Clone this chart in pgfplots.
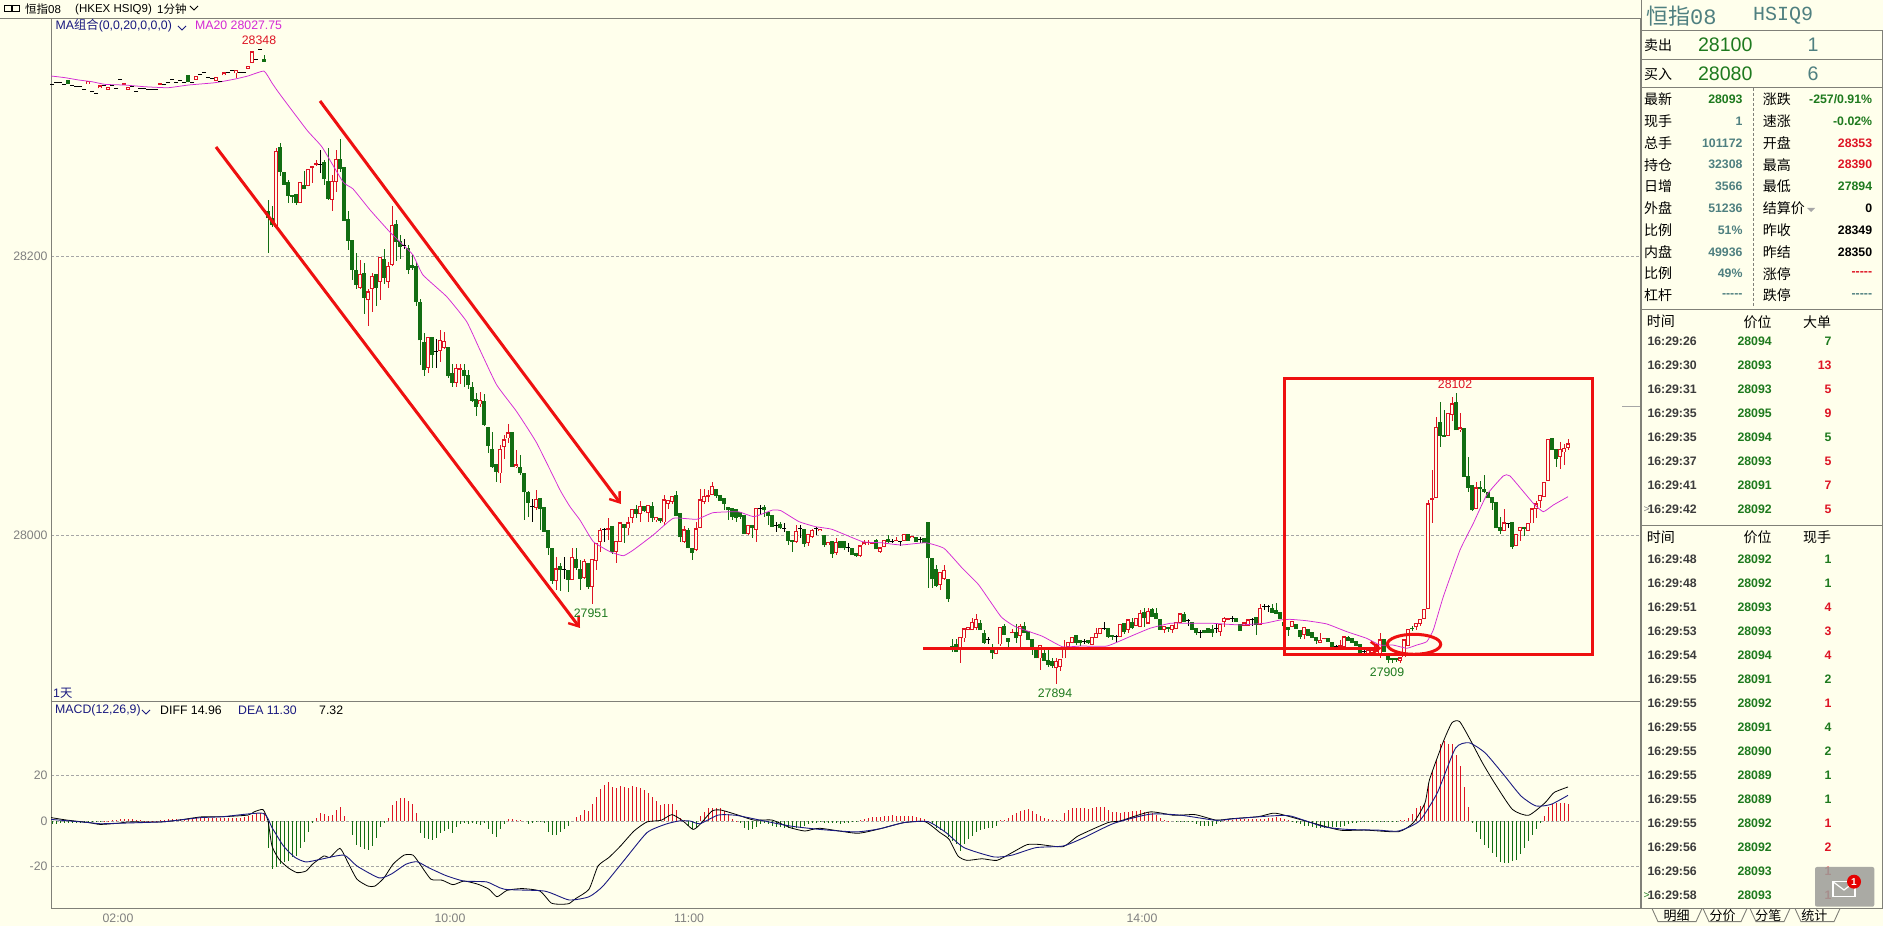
\documentclass[border=0pt]{standalone}
\usepackage{fontspec}
\usepackage{pgfplots}
\usepackage{pgfplotstable}
\pgfplotsset{compat=1.18}
\usetikzlibrary{arrows.meta}
\setmainfont{Liberation Sans}
\newfontfamily\cjk{Noto Sans CJK SC}
\newfontfamily\mono{Liberation Mono}
\definecolor{bg}{HTML}{FFFFEC}
\definecolor{cr}{HTML}{DE1424}
\definecolor{cg}{HTML}{126E12}
\definecolor{tg}{HTML}{1E7A1E}
\definecolor{tl}{HTML}{4F8080}
\definecolor{mg}{HTML}{D428D4}
\definecolor{nv}{HTML}{1A1A80}
\definecolor{gl}{HTML}{808078}
\definecolor{tm}{HTML}{3C3C3C}
\definecolor{anno}{HTML}{EE1010}

% body low, body high, low, high
\pgfplotstableread{
x bl bh l h
88 28323 28325.5 28323 28325.5
100 28320 28322 28320 28322
108 28319 28321 28319 28321
124 28322 28323.5 28322 28323.5
128 28319 28321 28319 28321
160 28322.5 28323.5 28322.5 28323.5
196 28326 28329 28326 28329
216 28325.4 28327.8 28325.4 28327.8
224 28329.2 28331.4 28329.2 28331.4
236 28330.7 28333 28327 28333
248 28334 28336 28334 28336
252 28338 28346.4 28338 28346.4
276 28221 28275 28220 28277
300 28238 28253 28238 28253
308 28250 28262.5 28250 28262.5
312 28263 28264.5 28252 28264.5
316 28265.2 28266.6 28265 28269
332 28240.4 28253.5 28232 28258
336 28253 28269.7 28245.8 28275.7
360 28177.4 28187.4 28176.6 28197
368 28168.3 28174.7 28150 28176.6
372 28176.6 28185.7 28160 28188
380 28181.4 28199.3 28168.8 28199.3
388 28181.4 28192.6 28177.4 28195.7
392 28193.8 28222.5 28192.6 28235.6
428 28119.6 28142.2 28116.5 28142.2
440 28132.2 28139.8 28124.3 28147
444 28133.9 28139 28134 28145.8
456 28108.8 28119.6 28106.4 28123
460 28118.4 28119.6 28108.3 28123
480 28093.8 28096.9 28092 28102.4
500 28044.4 28061.8 28037.7 28064.7
504 28063 28068.7 28054.4 28071.8
508 28069.4 28073.7 28065.9 28079.5
516 28048.7 28050.8 28048 28061
536 28020 28026 28018.1 28032.4
556 27967.5 27976.4 27960.8 27984.7
572 27968.5 27984.7 27968.5 27991.4
584 27969.7 27981.8 27969.2 27983.5
592 27963.2 27983.5 27951 27983.5
596 27981.8 27994.8 27975.2 27994.8
600 27995.4 28003.8 27988.3 28005
608 28003.8 28005 27996.6 28012.8
616 27988.3 27996.2 27980.4 27996.2
620 27995.4 28009.3 27995.4 28009.3
628 28005 28009.3 28000.2 28013.3
632 28012.8 28019.3 28008.6 28019.3
640 28015.3 28021.2 28009.3 28024.6
648 28015.8 28021.8 28009.3 28021.8
656 28011 28013.3 28009.3 28013.3
664 28009.3 28025.8 28007.4 28028.8
668 28022.8 28025.3 28019.3 28025.3
672 28024 28028.1 28022.8 28028.1
684 27995.4 28004.3 27995 28006.7
696 27989.5 28005 27988.8 28009.3
700 28005.7 28025.8 28005.7 28033.6
704 28024 28028.1 28022.8 28033.6
708 28027.8 28029.3 28024 28032.4
712 28028.8 28035.5 28028.8 28038.4
748 28001 28007.5 28000.3 28007.5
756 28004 28020 27995.5 28020
796 27995.5 28003.4 27995 28007.5
808 27994.3 28001 27992.4 28001
812 27998.6 28004 27998 28005
820 28003 28005 28003 28005
828 27993 27995.5 27993 27995.5
836 27987.2 27995.5 27986 27998
860 27985.3 27993 27984.8 27993
864 27993 27995 27993 27996.7
868 27994.8 27995.5 27993 27996.7
872 27993.9 27995 27993.9 27995
880 27988.4 27991.5 27987.7 27991.5
884 27991.5 27996.7 27991.5 27996.7
896 27996 27996.7 27996 27998.6
904 27996 28000.8 27996 28000.8
912 27998 27999.8 27998 27999.8
940 27964.5 27974 27961 27974
944 27968.6 27975.2 27968 27978.8
960 27919.2 27927.5 27908.4 27927.5
964 27926.3 27933.5 27924 27933.5
968 27932.3 27934.7 27932.3 27934.7
972 27932.3 27938.2 27932.3 27940.6
976 27933.5 27940 27932.3 27943.7
996 27915 27920.3 27915 27920.3
1000 27922 27934.7 27920.8 27934.7
1012 27930 27931.2 27930 27933
1020 27928.3 27935.5 27920 27937
1040 27912 27921.6 27903.7 27921.6
1056 27905 27910 27894 27912
1060 27906 27911.6 27903 27911.6
1064 27912 27920.4 27912 27925.2
1068 27920.4 27924 27920.4 27924
1072 27923 27927.6 27923 27927.6
1092 27921.6 27927.6 27921.6 27927.6
1096 27927 27930.5 27927 27933.6
1100 27929.5 27933.6 27929.5 27933.6
1120 27927.6 27937 27927.6 27937
1128 27932.4 27940 27930.5 27940
1136 27935.2 27940.7 27935.2 27940.7
1140 27934.7 27944.8 27934.7 27946.7
1148 27937 27946.2 27937 27948
1164 27932.4 27935.2 27930.5 27935.2
1172 27932.4 27936 27930.5 27936
1176 27932.8 27938.3 27932.8 27938.3
1180 27937.6 27944.3 27937.6 27944.3
1220 27931.2 27937 27928 27937
1224 27938 27940.7 27934.7 27942
1228 27939.5 27940.7 27939.5 27940.7
1244 27935.2 27937.8 27935.2 27937.8
1248 27935.2 27940 27935.2 27940
1260 27936 27948 27936 27951
1292 27934.6 27938.7 27934.6 27938.7
1304 27928.7 27934.6 27925.6 27934.6
1320 27923.4 27925.1 27923.4 27929.9
1324 27925.6 27926.8 27925.6 27926.8
1340 27920.4 27921.5 27920.4 27925
1344 27920.4 27927.9 27920.4 27927.9
1368 27915.5 27917.9 27915.5 27917.9
1372 27916 27918.4 27916 27918.4
1376 27916.7 27922.7 27916.7 27922.7
1380 27914.4 27925.6 27912 27930.4
1400 27910.4 27912.7 27908.4 27912.7
1404 27912.7 27925.6 27912.7 27925.6
1408 27920.8 27933 27920.8 27933
1416 27934.2 27937.5 27932.2 27937.5
1420 27937 27940.6 27935.4 27940.6
1424 27939.9 27947.4 27939.9 27947.4
1428 27947.4 28022.9 27947.4 28025.4
1432 28025.4 28026.5 28009.1 28046.8
1436 28026.5 28077.4 28026.5 28085
1448 28071.4 28087.4 28071.4 28087.4
1452 28086.2 28094.5 28082.1 28098.8
1460 28075.4 28077.4 28074.2 28087.4
1476 28018.9 28034.4 28018.9 28038.4
1504 28003.4 28009.4 28003.4 28018.6
1516 27992.6 28001.4 27992.6 28001.4
1520 28003.1 28006.2 27996.2 28006.2
1528 28003.1 28009.1 28003.1 28009.1
1532 28008.6 28019.4 28008.6 28019.4
1536 28018.9 28022.9 28012.7 28024.6
1540 28024.6 28028.9 28019.4 28028.9
1544 28027.7 28038 28027.7 28038
1548 28039.2 28069 28039.2 28069
1560 28056.4 28061.6 28047.8 28066.6
1564 28059.4 28062.8 28050.4 28065.4
1568 28062.8 28065.9 28061.1 28068.8
}\Rtab

\pgfplotstableread{
x bl bh l h
68 28323 28326 28323 28326
188 28324.2 28329.5 28324.2 28329.5
264 28339 28341 28339 28344
268 28227 28232 28202 28240
272 28222 28227 28221 28236
280 28260 28278 28257 28281
284 28251 28260 28251 28260
288 28243 28253 28238 28254.7
292 28242.5 28243.5 28238 28243.5
296 28238 28244.7 28236.3 28244.7
304 28247.8 28251 28247.8 28261
324 28255 28267.3 28250.6 28269
328 28240.6 28253.7 28240 28277.6
340 28262.6 28269.7 28260 28283.6
344 28225 28263.7 28225 28263.7
348 28211 28226.8 28204 28232
352 28189.8 28211.7 28182.6 28211.7
356 28179.5 28190 28176.6 28202.4
364 28170 28188 28158.7 28195
376 28177.4 28187 28164 28187
384 28184.3 28198 28180 28205.3
396 28210 28223 28196.4 28225.6
400 28206.5 28210.5 28198 28214.8
408 28189.8 28206 28187 28207.7
412 28191.7 28193.3 28190.2 28200.5
416 28167 28192.6 28164.2 28195.7
420 28139.6 28167 28121.7 28169.5
424 28118.4 28138.6 28114.3 28144.6
432 28129 28141.8 28119.6 28141.8
448 28114 28134.6 28112.4 28134.6
452 28109.3 28116 28106 28123
464 28114 28118.4 28106 28123
468 28107.6 28114.8 28104.5 28118.4
472 28096.4 28106.4 28095.7 28110
476 28092 28097.4 28085.4 28101.7
484 28079 28096.2 28078.5 28101
488 28064.2 28077.8 28058.7 28077.8
492 28049.2 28061.8 28048.7 28073.7
496 28045.6 28051.5 28038 28051.5
512 28049.2 28073.7 28049.2 28073.7
520 28044.4 28049.2 28043.2 28057.5
524 28030.8 28044.4 28011 28044.4
528 28023.4 28030.8 28012.9 28032
540 28018.6 28026.5 28003.8 28026.5
544 28002.6 28020.5 28002.6 28020.5
548 27990.7 28003.8 27985.9 28003.8
552 27967.5 27990.7 27965.1 27990.7
560 27975.2 27978 27960.4 27980.4
568 27968.5 27975.2 27959.8 27975.2
576 27976.4 27983.5 27975.2 27990.7
580 27969.2 27975.7 27960.8 27982.3
588 27963.2 27980 27962 27980
612 27988.3 28006.7 27987.1 28006.7
624 28005.7 28008.1 27994.3 28008.1
636 28015.3 28019.3 28012.8 28021.8
644 28017.6 28021.2 28016.9 28021.2
652 28012.8 28021 28009.8 28024
660 28010.5 28012.8 28008.6 28012.8
676 28013.8 28028.8 28013.8 28032
680 27998.6 28016.2 27995 28016.2
688 27990.7 28003.8 27990.7 28005.7
692 27987.6 27990.7 27982.8 27990.7
716 28028.1 28033.6 28026.5 28033.6
720 28025 28029 28025 28029
724 28022.5 28026.6 28018 28026.6
728 28018 28020.6 28011 28020.6
732 28013.4 28019.4 28011 28019.4
736 28012.2 28019 28010 28019
740 28013.4 28017 28012 28017
744 28001 28014.6 28001 28014.6
752 28005 28007.5 27998 28007.5
764 28018 28020.6 28013.4 28022
768 28014 28017 28007.5 28017
772 28006.3 28014.6 28006.3 28014.6
780 28005 28008.2 28004.4 28009.4
788 27996 28003.4 27993 28003.4
792 27995.5 27996.7 27988.4 27996.7
804 27994 28005 27991.5 28005
824 27993 28000.3 27992 28000.3
832 27986.5 27996 27983.6 27996
840 27990.8 27996 27990.8 27996
844 27990.8 27996 27989.6 27996
852 27986 27990.8 27986 27990.8
856 27985.3 27987.7 27984.8 27987.7
876 27990 27996.7 27990 27997.2
888 27995 27997.4 27994.3 28000.3
908 27996.2 28000.8 27996.2 28000.8
916 27995.5 27998.6 27995.5 27998.6
924 27994.3 27998 27994.3 27998
928 27983.6 28009.4 27962.6 28009.4
932 27968.6 27983.6 27962.6 27983.6
936 27963.8 27975.7 27963.3 27978.8
948 27954.2 27968.6 27952.6 27968.6
952 27918 27920.8 27916.8 27925.6
956 27916.8 27922.7 27916.8 27925.6
980 27932.3 27937.5 27932.3 27939.4
984 27923.2 27930.4 27922.3 27932.3
992 27915.6 27920.3 27911.5 27922.7
1004 27928.8 27935.5 27928.8 27937
1008 27924 27926.4 27920.4 27926.9
1016 27926.4 27930.7 27923 27937
1024 27930 27935.5 27930 27938
1028 27925.2 27932 27925.2 27932
1032 27920 27925.7 27914.5 27925.7
1036 27912 27919.2 27912 27919.2
1044 27910.4 27915.7 27910.4 27919.2
1048 27907.3 27911 27905.6 27918
1052 27906.6 27910.2 27905 27912
1076 27923.3 27928.8 27921.6 27928.8
1080 27923.3 27925.2 27921 27925.2
1088 27923 27925.2 27922 27925.2
1108 27927.6 27933.6 27926.9 27933.6
1112 27927.6 27928.8 27925.2 27928.8
1124 27931.2 27937.6 27929.3 27937.6
1132 27933.6 27938 27932.8 27940.7
1144 27940.7 27945.5 27934.7 27948
1152 27942 27947.4 27942 27948
1156 27940 27944.3 27940 27948
1160 27932.4 27940.2 27932.4 27940.2
1168 27932.8 27934.7 27931 27934.7
1184 27938.3 27943.8 27938.3 27945.5
1192 27932.4 27938.3 27932.4 27938.3
1196 27930.5 27933.6 27928.8 27933.6
1204 27930 27932.4 27930 27932.4
1208 27930.5 27933.6 27930.5 27933.6
1212 27930.5 27932.8 27927.6 27936
1236 27938.3 27940.7 27938.3 27940.7
1240 27932 27937 27932 27937
1256 27936 27942 27928.8 27942
1272 27944.8 27948 27944.8 27951
1276 27943.8 27946.7 27943.8 27951.5
1280 27940 27945.5 27940 27945.5
1284 27935 27938 27935 27938
1288 27932.2 27934.2 27928.2 27934.2
1296 27933.4 27937 27933.4 27937
1300 27927.4 27932.2 27925.8 27932.2
1308 27927.9 27933.4 27927.9 27933.4
1312 27926.8 27930.6 27926.8 27930.6
1316 27924.4 27927.4 27922.7 27927.4
1328 27923.9 27926.8 27923.9 27926.8
1332 27920.4 27923.9 27920.4 27923.9
1348 27924.6 27927.4 27924.6 27928.2
1352 27923.2 27926.3 27923.2 27926.3
1356 27920.8 27924.6 27920.8 27924.6
1360 27916 27922.7 27916 27922.7
1384 27916.7 27925.6 27916.7 27925.6
1388 27911.2 27915.5 27908.4 27915.5
1392 27910.8 27912 27908.4 27912
1396 27910.8 27912 27909.6 27912
1412 27933 27933.9 27931.8 27935
1440 28071.4 28081.4 28063.5 28095.7
1444 28070.7 28071.9 28070.7 28089.8
1456 28075.4 28095.7 28075.4 28101.7
1464 28042 28076.6 28042 28076.6
1468 28034.2 28042.7 28030.8 28055.9
1472 28018.2 28036.1 28017.7 28036.1
1480 28033 28034.4 28024.1 28038.9
1484 28031.3 28033.2 28031 28043.2
1488 28026.5 28031.3 28026.5 28031.3
1492 28022.9 28027.7 28018.2 28027.7
1496 28005 28023.7 28005 28023.7
1500 28003.4 28005.8 28001 28013.4
1512 27991.9 28009.4 27990.2 28009.4
1524 28004.4 28006.2 27999.8 28006.2
1552 28061.1 28069.4 28061.1 28069.4
1556 28054.7 28061.8 28048.7 28061.8
}\Gtab

% doji: close, low, high
\pgfplotstableread{
x c l h
52 28323 28323 28323
56 28324 28324 28324
60 28324 28324 28324
64 28323 28323 28323
72 28322 28322 28322
76 28321 28321 28321
80 28321 28321 28321
84 28319 28319 28319
92 28318 28318 28318
96 28316 28316 28316
104 28322 28322 28322
112 28322 28322 28322
116 28320 28320 28320
120 28326 28326 28326
132 28321 28321 28321
136 28318 28318 28318
140 28320 28320 28320
144 28320 28320 28320
148 28319 28319 28319
152 28319.5 28319.5 28319.5
156 28319.5 28319.5 28319.5
164 28323 28323 28323
168 28324 28324 28324
172 28326 28326 28326
176 28324 28324 28324
180 28325.5 28325.5 28325.5
184 28324 28324 28324
192 28324 28324 28324
200 28330 28330 28330
204 28331 28331 28331
208 28327.5 28327.5 28327.5
212 28327 28327 28327
220 28325 28325 28325
228 28331 28331 28331
232 28333 28333 28333
240 28331 28331 28331
244 28331 28331 28331
256 28340.7 28340.7 28340.7
260 28348 28348 28348
320 28265.4 28259.5 28276
404 28207.7 28205 28212.4
436 28131.5 28119.6 28140.3
532 28021 28009.3 28026
564 27975.7 27969.2 27984.7
604 28004.3 27995.4 28005.7
760 28019 28014.6 28022
776 28007.5 28002.7 28010
784 28005 28002.7 28008.7
800 28005 27998 28007.5
816 28005 28000.3 28006.3
848 27991.5 27988.4 27994.3
892 27995.5 27994.3 27997.2
900 27996 27992.7 27996
920 27997.4 27994.8 27998.6
988 27925.8 27922.3 27927.5
1084 27924.5 27922 27925.7
1104 27933.6 27932.4 27938
1116 27927.6 27924 27928.8
1188 27939.5 27935.2 27940
1200 27930.7 27926.9 27932.4
1216 27933.6 27930 27937
1232 27940.7 27938.3 27942.4
1252 27940 27935.2 27940.7
1264 27949.5 27947 27951
1268 27949.5 27945.5 27950.3
1336 27920.4 27917.9 27921.5
1364 27916.7 27914.4 27918.4
1508 28008.6 28005 28008.6
}\Ktab

\pgfplotstableread{
x y
51 28328.8
65 28327.6
78 28326
92 28324.7
105 28322.8
125 28322.3
145 28321.1
168 28320.4
188 28322.3
215 28324
235 28326.6
248 28328.8
264 28332.3
272 28323.8
279 28316.6
307 28290
322 28278
343 28253
353 28248
370 28233
390 28217
403 28208
413 28200.7
423 28186.4
446.7 28170.9
466.7 28153
480 28132.7
496.7 28107.7
516.7 28088.6
536.7 28066.2
560 28032.6
570 28020.6
580 28011
593.3 27995.6
610 27988.4
623.3 27985.5
633.3 27989.6
653.3 28000.4
673.3 28012.3
696.7 28011.6
713 28016.3
738 28017
754 28013.5
772.6 28018.2
781 28017.7
799 28009.9
815.5 28006.3
832 28004.4
862.4 27995.6
881 27994.8
901 27993.2
925.7 27994.8
944 27990.8
962.4 27976.5
978.8 27964.6
1001 27941.9
1015.5 27934.7
1042 27928
1062.4 27920.4
1080.8 27920.9
1107 27920.9
1129.8 27927.6
1150 27933.6
1170.6 27937.2
1187 27937.2
1211.4 27937.2
1240 27936
1264.5 27937.2
1280 27939.5
1290 27940
1306.7 27939
1326.7 27936.7
1346.7 27931.2
1366.7 27926.4
1380 27921.6
1393 27921.6
1406.7 27919.3
1416.7 27921.6
1426.7 27924
1433.3 27932.4
1443.3 27956.2
1460 27989.6
1473.3 28008.7
1486.7 28029
1503.3 28042.6
1510 28042.6
1533.3 28023
1543.3 28017
1553.3 28021.8
1568 28027.75
}\MAtab

\pgfplotstableread{
x y
52 -1.2
56 -1.2
60 -1
64 -1
68 -1
72 -.8
76 -.8
80 -.8
84 -.8
88 -.5
92 -.4
96 -.2
100 -.1
268 -12
272 -21
276 -20
280 -19
284 -18
288 -17.6
292 -16
296 -15.4
300 -11.7
304 -9.2
308 -5
312 -1
352 -6
356 -10.7
360 -11.3
364 -12.2
368 -12.7
372 -11
376 -7.3
380 -2.5
384 -1
420 -5.4
424 -7.3
428 -8
432 -8.5
436 -7.3
440 -5.4
444 -4.4
448 -3.7
452 -5.4
456 -2.5
460 -1.5
464 -1
468 -1.2
472 -.7
476 -1.5
480 -1.9
484 -.7
488 -3.7
492 -5.9
496 -7
500 -3.7
504 -1.5
528 -1.5
532 -1
536 -.3
540 -.3
544 -.7
548 -5
552 -6
556 -6.2
560 -5
564 -3.7
568 -2
688 -2.2
692 -3.7
696 -3
740 -1
744 -3
748 -4
752 -3.5
756 -2.5
760 -1.5
764 -1
768 -1.5
772 -2
776 -2.5
780 -2.7
784 -3
788 -3.2
792 -3.5
796 -3
800 -2.5
804 -2
808 -1.3
812 -1
816 -1
820 -.5
824 -1
828 -1
832 -1
836 -1
840 -1.2
844 -1
848 -1
852 -.5
856 -.2
932 -1.5
936 -3
940 -4
944 -5
948 -7
952 -9
956 -10
960 -13
964 -10
968 -8
972 -6.5
976 -5
980 -4
984 -3.5
988 -3
992 -3
996 -2
1176 -.2
1180 -.3
1184 -.3
1188 -.2
1192 -.5
1196 -1.5
1200 -2
1204 -2.2
1208 -2.2
1212 -2
1216 -1.5
1220 -.5
1292 -.5
1296 -1
1300 -1.5
1304 -2
1308 -2.2
1312 -2.5
1316 -3
1320 -3
1324 -3
1328 -2.5
1332 -2.5
1336 -2.8
1340 -2.5
1344 -2
1348 -1.5
1352 -1
1356 -.7
1360 -.5
1364 -.3
1368 -.3
1372 -.4
1376 -.5
1380 -.3
1384 -.3
1388 -.2
1392 -.1
1396 -.1
1472 -1
1476 -5
1480 -8
1484 -10.5
1488 -12
1492 -14
1496 -16
1500 -18
1504 -18.6
1508 -18.3
1512 -17.8
1516 -17
1520 -14.7
1524 -12
1528 -9
1532 -6
1536 -3.5
1540 -1
}\HGtab

\pgfplotstableread{
x y
104 .1
108 .2
112 .3
116 .4
120 .8
124 .8
128 .8
132 .8
136 .5
140 .3
144 .2
148 .2
152 .2
156 .2
160 .3
164 .6
168 1
172 1
176 1
180 1
184 1
188 1
192 1
196 1.2
200 1.2
204 1.2
208 1.2
212 1.3
216 1.3
220 1.4
224 1.3
228 1.2
232 1.4
236 1.4
240 1.3
244 1.6
248 2
252 2.7
256 3.5
260 3.7
264 3.7
316 1.5
320 3.4
324 3
328 2.2
332 2.5
336 5
340 6
344 2.2
388 1.2
392 6.9
396 9
400 10
404 10.3
408 8.8
412 7.3
416 3.4
508 1
512 .7
516 .5
520 .5
576 1.8
580 2.5
584 4.8
588 4.4
592 7.3
596 10.7
600 13.9
604 15.7
608 17
612 15
616 14.4
620 15.2
624 15
628 14.5
632 15.4
636 15
640 14.6
644 13.5
648 12.5
652 10.7
656 9
660 6.9
664 7.3
668 7.3
672 7.3
676 5
680 1.5
684 .5
700 2
704 4
708 5.5
712 5.8
716 5.7
720 5.5
724 4.5
728 3
732 1
736 .2
860 .5
864 1
868 1.5
872 1.7
876 1.7
880 1.9
884 2
888 2.2
892 2.5
896 2.3
900 2.3
904 2.2
908 2.3
912 2.2
916 1.8
920 1.5
924 .7
928 .1
1000 .3
1004 .5
1008 1.5
1012 2.5
1016 3.5
1020 4.5
1024 5
1028 5.3
1032 4.5
1036 3
1040 2
1044 1.2
1048 .8
1052 .5
1056 .4
1060 .5
1064 3.6
1068 5
1072 5.5
1076 5.8
1080 5.7
1084 5.5
1088 5.3
1092 5.5
1096 6
1100 6.3
1104 6.3
1108 5
1112 4
1116 4
1120 3.7
1124 3.8
1128 4
1132 4.3
1136 4.5
1140 4.8
1144 4
1148 4
1152 3.5
1156 2.5
1160 1.5
1164 .5
1168 .2
1224 .3
1228 .5
1232 .5
1236 .8
1240 1
1244 1
1248 .8
1252 .8
1256 .8
1260 1
1264 1
1268 1.2
1272 1.5
1276 1.8
1280 1.5
1284 1
1288 .3
1400 .3
1404 .5
1408 1.5
1412 3
1416 5.5
1420 6.5
1424 7.3
1428 16
1432 22
1436 27
1440 34
1444 35
1448 34
1452 33.7
1456 29
1460 24
1464 15
1468 6
1544 2
1548 6
1552 7.4
1556 8
1560 8
1564 7.8
1568 7.32
}\HRtab

\pgfplotstableread{
x y
51 1.5
67 .4
89 -.7
100 -1.5
118 -1
129 -.4
161 -.4
179 .4
201 1.8
223 1.9
248 2.6
254 4
263 5
268 0
272 -11
279 -16.8
288 -20.5
297 -22.7
306 -22
312.5 -19
323.7 -15.4
330 -16
340 -12
348 -18.3
357 -25.6
368 -28.6
375 -28.6
384 -25
393 -19
404 -15
413 -15
420 -19
431 -25.6
442 -26
453 -28
464 -26.4
478 -27.8
489 -30
497 -33.3
507 -30.5
522 -29.7
540 -30.8
551 -36
560 -36.6
569 -36.3
576 -34
589 -30
598 -19.8
609 -16
620.5 -11
634 -4.4
647 -.4
661 .3
672 2.8
683 0
693 -3.7
700 -1.5
712 4.4
721 4.8
736 2.9
754 .4
772 .4
790 -2.9
805 -4.4
820 -3.2
857 -5.4
880 -3.4
904 -.7
925 -.3
940 -5.1
949 -8
958 -15.4
967 -17.3
982 -16.6
997 -17.3
1012 -13.9
1027 -10.4
1039 -10.3
1063 -11.3
1078 -6.6
1108 -.7
1120 0
1150 4
1174 2.5
1195 2.8
1216 .4
1231 1
1258 1.9
1272.5 3.4
1281.5 2.9
1323.5 -2.2
1341.5 -4.1
1365.5 -4
1398.5 -4.7
1413.5 -.7
1425 8
1429.6 18.3
1443.4 35
1452 43.2
1459.6 43.7
1470 35.9
1482.4 25.6
1494.4 16.8
1512.4 5.1
1528.5 2.5
1545 8
1554 12.5
1568 14.96
}\DIFtab

\pgfplotstableread{
x y
51 .7
89 -.7
100 -1.2
118 -1
161 -.4
179 .4
201 1.5
223 1.9
263 3.4
272 -2.9
283.5 -11
295 -16
306 -18
321 -16.8
344 -15
357 -19.8
379 -25
391 -23.4
406 -19
417 -17.9
428.5 -20.5
446 -24
464 -26.4
487 -26.8
504.5 -30
544.6 -30.8
569 -34.7
589 -33.3
603 -28.6
625 -16.8
647 -5.1
665 -1.5
678.6 0
690 0
700 -1.2
718 2.6
736 2.5
760 .4
790 -2.2
820 -3.7
856 -4.8
880 -3.4
904 -.7
928 -.3
946 -5.1
964 -11.7
994 -15.8
1012 -15
1036 -11.7
1063 -11
1084 -7.3
1114 -1
1150 3
1180 2.6
1216 .3
1234 1
1270 2.2
1290.5 2.2
1323.5 -2.5
1347.5 -3.7
1377.5 -4
1398.5 -4.4
1419.4 0
1437.4 12.5
1455.4 32
1469 34.4
1485 30
1503.4 20.5
1521 11
1536 6.6
1551 7.3
1568 11.3
}\DEAtab

\newcommand{\wicks}[2]{%
\addplot[draw=none,mark=none,forget plot,error bars/.cd,y dir=both,y explicit,error mark=none,
  error bar style={draw=#2,line width=1pt}]
  table[x=x,y=bl,y error plus expr={\thisrow{h}-\thisrow{bl}},y error minus expr={\thisrow{bl}-\thisrow{l}}] {#1};}
\newcommand{\bodies}[3]{%
\addplot[draw=none,mark=none,forget plot,error bars/.cd,y dir=plus,y explicit,error mark=none,
  error bar style={draw=#2,line width=#3}]
  table[x=x,y=bl,y error plus expr={\thisrow{bh}-\thisrow{bl}}] {#1};}

\newcommand{\fa}{\fontsize{12.3}{14}\selectfont}
\newcommand{\fb}{\fontsize{12.3}{14}\selectfont\bfseries}
\newcommand{\fc}{\fontsize{14}{16}\selectfont\cjk}
\newcommand{\tl}[4]{\node[anchor=west,inner sep=0pt,text=#3] at (#1,{926-#2}) {#4};}
\newcommand{\tr}[4]{\node[anchor=east,inner sep=0pt,text=#3] at (#1,{926-#2}) {#4};}
\newcommand{\tc}[4]{\node[anchor=center,inner sep=0pt,text=#3] at (#1,{926-#2}) {#4};}
\newcommand{\hl}[3]{\draw[gl,line width=.9pt] (#1,{926-#3}) -- (#2,{926-#3});}

\begin{document}
\begin{tikzpicture}[x=1pt,y=1pt]
\path[use as bounding box,fill=bg] (0,0) rectangle (1883,926);

\begin{axis}[at={(51pt,225pt)},anchor=south west,scale only axis,width=1589pt,height=683pt,
  xmin=51,xmax=1640,ymin=27881.57,ymax=28370.3,xtick=\empty,
  ytick={28000,28200},yticklabels={28000,28200},
  tick style={draw=none},
  y tick label style={font=\fa,text=gray},
  axis line style={draw=gl,line width=.9pt},
  ymajorgrids,grid style={densely dashed,gray!70,line width=.6pt}]
\wicks{\Rtab}{cr}
\wicks{\Gtab}{cg}
\addplot[only marks,mark=-,mark size=2pt,mark options={draw=black,line width=.9pt},forget plot,
  error bars/.cd,y dir=both,y explicit,error mark=none,error bar style={draw=black,line width=1pt}]
  table[x=x,y=c,y error plus expr={\thisrow{h}-\thisrow{c}},y error minus expr={\thisrow{c}-\thisrow{l}}] {\Ktab};
\bodies{\Gtab}{cg}{3.4pt}
\bodies{\Rtab}{cr}{3.6pt}
\addplot[draw=none,mark=none,forget plot,error bars/.cd,y dir=both,y explicit,error mark=none,
  error bar style={draw=bg,line width=1.5pt}]
  table[x=x,y expr={(\thisrow{bl}+\thisrow{bh})/2},y error expr={max((\thisrow{bh}-\thisrow{bl})/2-0.75,0)}] {\Rtab};
\addplot[mg,line width=.75pt,smooth,tension=.25,forget plot] table[x=x,y=y] {\MAtab};
\end{axis}

\begin{axis}[at={(51pt,18pt)},anchor=south west,scale only axis,width=1589pt,height=207pt,
  xmin=51,xmax=1640,ymin=-38.24,ymax=52.75,
  xtick={118,450,689,1142},xticklabels={02:00,10:00,11:00,14:00},
  ytick={-20,0,20},yticklabels={-20,0,20},
  tick style={draw=none},
  y tick label style={font=\fa,text=gray},
  x tick label style={font=\fa,text=gray,yshift=-2pt},
  axis line style={draw=gl,line width=.9pt},
  ymajorgrids,grid style={densely dashed,gray!70,line width=.6pt}]
\addplot[ycomb,draw=cr,line width=.9pt,mark=none,forget plot] table[x=x,y=y] {\HRtab};
\addplot[ycomb,draw=cg,line width=.9pt,mark=none,forget plot] table[x=x,y=y] {\HGtab};
\addplot[black,line width=.8pt,smooth,tension=.35,forget plot] table[x=x,y=y] {\DIFtab};
\addplot[nv,line width=.9pt,smooth,tension=.35,forget plot] table[x=x,y=y] {\DEAtab};
\end{axis}

% drawn annotations
\begin{scope}[anno,line width=3pt]
\draw[-{Straight Barb[length=9pt,width=13pt,line width=2.4pt]}] (216,779) -- (580,298);
\draw[-{Straight Barb[length=9pt,width=13pt,line width=2.4pt]}] (320,825) -- (621,422);
\draw[-{Straight Barb[length=9pt,width=13pt,line width=2.4pt]}] (923,277.7) -- (1381.7,277.7);
\draw (1284,547.7) rectangle (1592.7,271);
\draw (1414,281.7) ellipse [x radius=26.7,y radius=10];
\end{scope}
\draw[gray!70,line width=.8pt] (1622,520) -- (1640,520);

% chart labels
\tc{259}{40.7}{cr}{\fa 28348}
\tc{591}{613.3}{tg}{\fa 27951}
\tc{1055}{693.3}{tg}{\fa 27894}
\tc{1387}{672.7}{tg}{\fa 27909}
\tc{1455}{384.3}{cr}{\fa 28102}
\tl{53}{693}{nv}{\fa 1{\cjk 天}}

% header bar
\draw[gl,line width=.9pt] (0,{926-18}) -- (51,{926-18});
\draw[black,line width=.9pt] (4,{926-5}) rectangle (12,{926-11});
\draw[black,line width=.9pt] (11,{926-5}) rectangle (19,{926-11});
\tl{25}{9.5}{black}{\fontsize{11.5}{13}\selectfont{\cjk 恒指}08}
\tl{75}{9.5}{black}{\fontsize{11.5}{13}\selectfont (HKEX HSIQ9)}
\tl{157}{9.5}{black}{\fontsize{11.5}{13}\selectfont 1{\cjk 分钟}}
\draw[black,line width=.9pt] (190,{926-6}) -- (194,{926-10}) -- (198,{926-6});
\tl{55.5}{25.7}{nv}{\fa MA{\cjk 组合}(0,0,20,0,0,0)}
\draw[nv,line width=.9pt] (178,{926-26}) -- (182,{926-30}) -- (186,{926-26});
\tl{195}{25.7}{mg}{\fa MA20 28027.75}
\tl{55}{710.7}{nv}{\fa MACD(12,26,9)}
\draw[nv,line width=.9pt] (142,{926-710}) -- (146,{926-714}) -- (150,{926-710});
\tl{160}{710.7}{black}{\fa DIFF 14.96}
\tl{238}{710.7}{nv}{\fa DEA 11.30}
\tl{319}{710.7}{black}{\fa 7.32}

% right panel
\draw[gl,line width=.9pt] (1641.5,{926-908.3}) -- (1641.5,{926-0});
\hl{1641}{1883}{30.7}
\hl{1641}{1883}{59}
\hl{1641}{1883}{87.3}
\hl{1641}{1883}{309}
\hl{1641}{1883}{525.3}
\hl{1641}{1883}{908.3}
\draw[gl,line width=.9pt] (1882,{926-908.3}) -- (1882,{926-31});
\draw[gl,densely dashed,line width=.9pt] (1753,{926-88}) -- (1753,{926-306});

\tl{1646}{16}{tl}{\fontsize{22}{24}\selectfont{\cjk 恒指}{\mono 08}}
\tl{1753}{16}{tl}{\fontsize{20}{24}\selectfont\mono HSIQ9}
\tl{1644}{45}{black}{\fc 卖出}
\tl{1644}{74}{black}{\fc 买入}
\tr{1752.7}{45}{tg}{\fontsize{19.6}{22}\selectfont 28100}
\tr{1752.7}{74}{tg}{\fontsize{19.6}{22}\selectfont 28080}
\tc{1813}{45}{tl}{\fontsize{19.6}{22}\selectfont 1}
\tc{1813}{74}{tl}{\fontsize{19.6}{22}\selectfont 6}

\foreach \lab/\val/\col/\rlab/\rval/\rcol [count=\n] in {
 最新/28093/tg/涨跌/-257\slash 0.91\%/tg,
 现手/1/tl/速涨/-0.02\%/tg,
 总手/101172/tl/开盘/28353/cr,
 持仓/32308/tl/最高/28390/cr,
 日增/3566/tl/最低/27894/tg,
 外盘/51236/tl/结算价/0/black,
 比例/51\%/tl/昨收/28349/black,
 内盘/49936/tl/昨结/28350/black,
 比例/49\%/tl/涨停/-{}-{}-{}-{}-/cr,
 杠杆/-{}-{}-{}-{}-/tl/跌停/-{}-{}-{}-{}-/tl}{
  \pgfmathsetmacro{\yy}{99.3+21.8*(\n-1)}
  \tl{1644}{\yy}{black}{\fc \lab}
  \tr{1742.7}{\yy}{\col}{\fb \val}
  \tl{1762.7}{\yy}{black}{\fc \rlab}
  \tr{1872.3}{\yy}{\rcol}{\fb \rval}
}
\fill[gray!70] (1807,{926-208}) -- (1815,{926-208}) -- (1811,{926-212}) -- cycle;

\tl{1646.7}{321.7}{black}{\fc 时间}
\tc{1757.7}{321.7}{black}{\fc 价位}
\tc{1817}{321.7}{black}{\fc 大单}
\foreach \t/\p/\q/\c [count=\n] in {
 16:29:26/28094/7/tg,16:29:30/28093/13/cr,16:29:31/28093/5/cr,16:29:35/28095/9/cr,
 16:29:35/28094/5/tg,16:29:37/28093/5/cr,16:29:41/28091/7/cr,16:29:42/28092/5/cr}{
  \pgfmathsetmacro{\yy}{341.7+23.95*(\n-1)}
  \tl{1647.3}{\yy}{tm}{\fb \t}
  \tl{1737.3}{\yy}{tg}{\fb \p}
  \tr{1831.7}{\yy}{\c}{\fb \q}
}
\tl{1643.5}{509.3}{gray}{\fontsize{10}{12}\selectfont >}

\tl{1646.7}{537.3}{black}{\fc 时间}
\tc{1757.7}{537.3}{black}{\fc 价位}
\tc{1817}{537.3}{black}{\fc 现手}
\foreach \t/\p/\q/\c [count=\n] in {
 16:29:48/28092/1/tg,16:29:48/28092/1/tg,16:29:51/28093/4/cr,16:29:53/28093/3/cr,
 16:29:54/28094/4/cr,16:29:55/28091/2/tg,16:29:55/28092/1/cr,16:29:55/28091/4/tg,
 16:29:55/28090/2/tg,16:29:55/28089/1/tg,16:29:55/28089/1/tg,16:29:55/28092/1/cr,
 16:29:56/28092/2/cr,16:29:56/28093/1/cr,16:29:58/28093/1/cr}{
  \pgfmathsetmacro{\yy}{559.3+24*(\n-1)}
  \tl{1647.3}{\yy}{tm}{\fb \t}
  \tl{1737.3}{\yy}{tg}{\fb \p}
  \tr{1831.7}{\yy}{\c}{\fb \q}
}
\tl{1643.5}{895.3}{tg}{\fontsize{10}{12}\selectfont >}

% tabs
\foreach \a/\b/\lab in {1652/1702/明细,1703/1747/分价,1750/1790/分笔,1795/1840/统计}{
  \draw[gl,line width=.9pt] (\a,{926-908.5}) -- ({\a+6},{926-921.7}) -- ({\b-6},{926-921.7}) -- (\b,{926-908.5});
}
\tc{1676.7}{915.5}{black}{\fontsize{13}{15}\selectfont\cjk 明细}
\tc{1722.7}{915.5}{black}{\fontsize{13}{15}\selectfont\cjk 分价}
\tc{1768.3}{915.5}{black}{\fontsize{13}{15}\selectfont\cjk 分笔}
\tc{1814.3}{915.5}{black}{\fontsize{13}{15}\selectfont\cjk 统计}

% message icon
\fill[rounded corners=2pt,fill=gray!75!bg,opacity=.88] (1815,{926-867}) rectangle (1874.3,{926-906.7});
\draw[white,line width=1.5pt,fill=none] (1833,{926-881.7}) rectangle (1855,{926-896.7});
\draw[white,line width=1.2pt] (1833,{926-881.7}) -- (1844,{926-890}) -- (1855,{926-881.7});
\fill[red!90!black] (1854,{926-881.7}) circle (7);
\tc{1854}{881.7}{white}{\fontsize{10}{12}\selectfont\bfseries 1}
\end{tikzpicture}
\end{document}
